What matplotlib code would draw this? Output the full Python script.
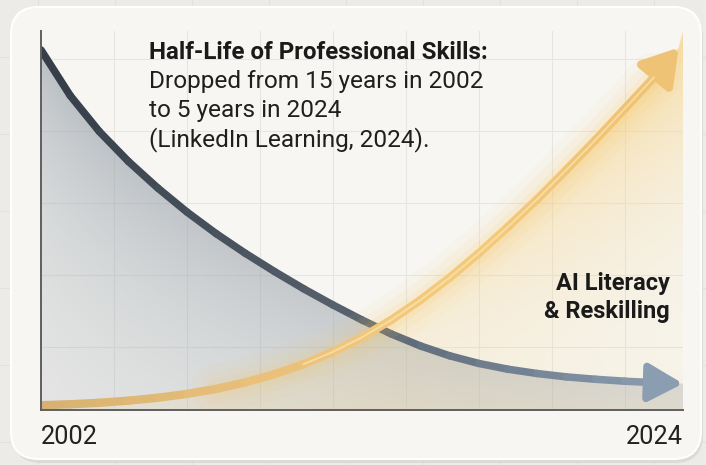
import numpy as np
import matplotlib
matplotlib.use('Agg')
from matplotlib import pyplot as plt
from matplotlib.patches import FancyBboxPatch, Polygon
from matplotlib.collections import LineCollection
from matplotlib.colors import LinearSegmentedColormap, to_rgb

plt.rcParams['font.family'] = ['Roboto', 'DejaVu Sans']

########
# DATA #
########

# skill half-life curve (schematic, falling)
decay_years = [2002, 2003, 2004, 2005, 2006, 2007, 2008, 2009, 2010, 2011, 2012,
               2013, 2014, 2015, 2016, 2017, 2018, 2019, 2020, 2021, 2022, 2023, 2024]
decay_vals = [15.0, 13.1, 11.6, 10.35, 9.25, 8.25, 7.35, 6.53, 5.77, 5.05, 4.38,
              3.75, 3.17, 2.67, 2.26, 1.94, 1.70, 1.52, 1.38, 1.28, 1.20, 1.14, 1.1]

# AI literacy & reskilling curve (schematic, rising)
rise_years = [2002, 2003, 2004, 2005, 2006, 2007, 2008, 2009, 2010, 2011, 2012,
              2013, 2014, 2015, 2016, 2017, 2018, 2019, 2020, 2021, 2022, 2023, 2023.85]
rise_vals = [0.2, 0.24, 0.30, 0.39, 0.51, 0.67, 0.88, 1.15, 1.49, 1.91, 2.42,
             3.03, 3.75, 4.58, 5.51, 6.53, 7.63, 8.78, 10.0, 11.25, 12.55, 13.85, 15.1]

title = 'Half-Life of Professional Skills:'
body = ['Dropped from 15 years in 2002', 'to 5 years in 2024', '(LinkedIn Learning, 2024).']
rise_label = ['AI Literacy', '& Reskilling']
x_labels = ['2002', '2024']

W, H = 706, 465
YMAX = 15.79

fig = plt.figure(figsize=(W/100., H/100.), dpi=100)
fig.patch.set_facecolor('#ecebe8')

# background layer in pixel coordinates
bg = fig.add_axes([0, 0, 1, 1])
bg.set_xlim(0, W)
bg.set_ylim(H, 0)
bg.axis('off')
for gx in np.arange(38, W, 77):
    bg.axvline(gx, color='#e2e1dd', lw=0.8, zorder=0)
for gy in np.arange(57, H, 77):
    bg.axhline(gy, color='#e2e1dd', lw=0.8, zorder=0)
shadow = FancyBboxPatch((13, 10), 690, 453, boxstyle='round,pad=0,rounding_size=28',
                        fc='#d9d8d4', ec='none', alpha=0.8, zorder=1)
bg.add_patch(shadow)
card = FancyBboxPatch((11, 7), 690, 452, boxstyle='round,pad=0,rounding_size=28',
                      fc='#f7f6f2', ec='#ffffff', lw=1.5, zorder=2)
bg.add_patch(card)

# chart axes
ax = fig.add_axes([41/W, (H-410)/H, 642/W, 379/H])
ax.patch.set_alpha(0)
ax.set_axisbelow(True)

# grey gradient under the falling curve
gx = np.linspace(2002, 2024, 300)
gy = np.linspace(0, YMAX, 200)
X, Y = np.meshgrid(gx, gy)
frac = (X - 2002) / 22.
D = np.interp(X, decay_years, decay_vals) - Y
img = np.zeros(X.shape + (4,))
img[..., :3] = to_rgb('#97a0aa')
img[..., 3] = np.clip((0.14 + 0.5*np.exp(-np.clip(D, 0, None)/7.)) * (1 - 0.45*frac), 0, 1)
im = ax.imshow(img, extent=[2002, 2024, 0, YMAX], origin='lower', aspect='auto', zorder=1)
verts = np.column_stack([decay_years + [2024, 2002], decay_vals + [0, 0]])
clip = Polygon(verts, closed=True, transform=ax.transData, fc='none', ec='none')
ax.add_patch(clip)
im.set_clip_path(clip)

# warm glow below / right of the rising curve
G = np.interp(X, rise_years, rise_vals) - Y
img2 = np.zeros(X.shape + (4,))
img2[..., :3] = to_rgb('#f6d58e')
img2[..., 3] = np.clip(0.8*np.exp(-np.abs(G)/5.) * frac**1.8 + 0.15*np.exp(-Y/1.2), 0, 1)
im2 = ax.imshow(img2, extent=[2002, 2024, 0, YMAX], origin='lower', aspect='auto', zorder=2)
verts2 = np.column_stack([rise_years + [2024, 2024, 2002], rise_vals + [YMAX, 0, 0]])
clip2 = Polygon(verts2, closed=True, transform=ax.transData, fc='none', ec='none')
ax.add_patch(clip2)
im2.set_clip_path(clip2)

# falling curve: dark slate to blue-grey, arrow at the end
dcmap = LinearSegmentedColormap.from_list('d', ['#363f49', '#56616d', '#8798ab'])
pts = np.column_stack([decay_years[:-1], decay_vals[:-1]])
segs = np.stack([pts[:-1], pts[1:]], axis=1)
lc = LineCollection(segs, colors=dcmap(np.linspace(0, 1, len(segs))), lw=5.4,
                    capstyle='round', zorder=4)
ax.add_collection(lc)
ax.annotate('', xy=(decay_years[-1], decay_vals[-1]),
            xytext=(decay_years[-2], decay_vals[-2]),
            arrowprops=dict(arrowstyle='-|>,head_length=1.05,head_width=0.58',
                            color='#8b9db0', lw=5.2, shrinkA=0, shrinkB=0,
                            mutation_scale=20), zorder=4)

# rising curve: golden with glow
for lw, a in [(36, 0.05), (24, 0.07), (14, 0.11)]:
    ax.plot(rise_years[6:-1], rise_vals[6:-1], color='#f6c65e', lw=lw, alpha=a,
            solid_capstyle='round', zorder=5)
gcmap = LinearSegmentedColormap.from_list('g', ['#d8b272', '#e9bf7a', '#f4cb7c', '#efc274'])
pts = np.column_stack([rise_years[:-1], rise_vals[:-1]])
segs = np.stack([pts[:-1], pts[1:]], axis=1)
lc2 = LineCollection(segs, colors=gcmap(np.linspace(0, 1, len(segs))), lw=6,
                     capstyle='round', zorder=6)
ax.add_collection(lc2)
ax.plot(rise_years[9:-1], rise_vals[9:-1], color='#fff0c4', lw=1.3, alpha=0.55, zorder=7)
ax.annotate('', xy=(rise_years[-1], rise_vals[-1]),
            xytext=(rise_years[-2], rise_vals[-2]),
            arrowprops=dict(arrowstyle='-|>,head_length=1.05,head_width=0.65',
                            color='#efc375', lw=6, shrinkA=0, shrinkB=0,
                            mutation_scale=20), zorder=6)

ax.set_xlim(2002, 2024)
ax.set_ylim(0, YMAX)
ax.set_xticks(np.arange(2004.5, 2024, 2.5))
ax.set_yticks(np.arange(2.625, YMAX, 3))
ax.grid(color='#e7e5e0', lw=0.8)
ax.tick_params(length=0, labelbottom=False, labelleft=False)
for s in ['top', 'right']:
    ax.spines[s].set_visible(False)
for s in ['left', 'bottom']:
    ax.spines[s].set_color('#5f5f5f')
    ax.spines[s].set_linewidth(1.4)
    ax.spines[s].set_zorder(8)

# texts (placed in pixel coordinates of the background layer)
ax.text(149, 59, title, transform=bg.transData, fontsize=17.4, fontweight='bold',
        color='#1a1a1a', va='baseline', ha='left', zorder=10)
for i, line in enumerate(body):
    ax.text(149, 88 + 29*i, line, transform=bg.transData, fontsize=17.6,
            color='#1f1f1f', va='baseline', ha='left', zorder=10)
for i, line in enumerate(rise_label):
    ax.text(670, 290 + 28*i, line, transform=bg.transData, fontsize=17,
            fontweight='bold', color='#1a1a1a', va='baseline', ha='right', zorder=10)
ax.text(41, 444, x_labels[0], transform=bg.transData, fontsize=18.3, color='#222222',
        va='baseline', ha='left', zorder=10)
ax.text(683, 444, x_labels[1], transform=bg.transData, fontsize=18.3, color='#222222',
        va='baseline', ha='right', zorder=10)

plt.savefig('out.png', dpi=100)
plt.close()
